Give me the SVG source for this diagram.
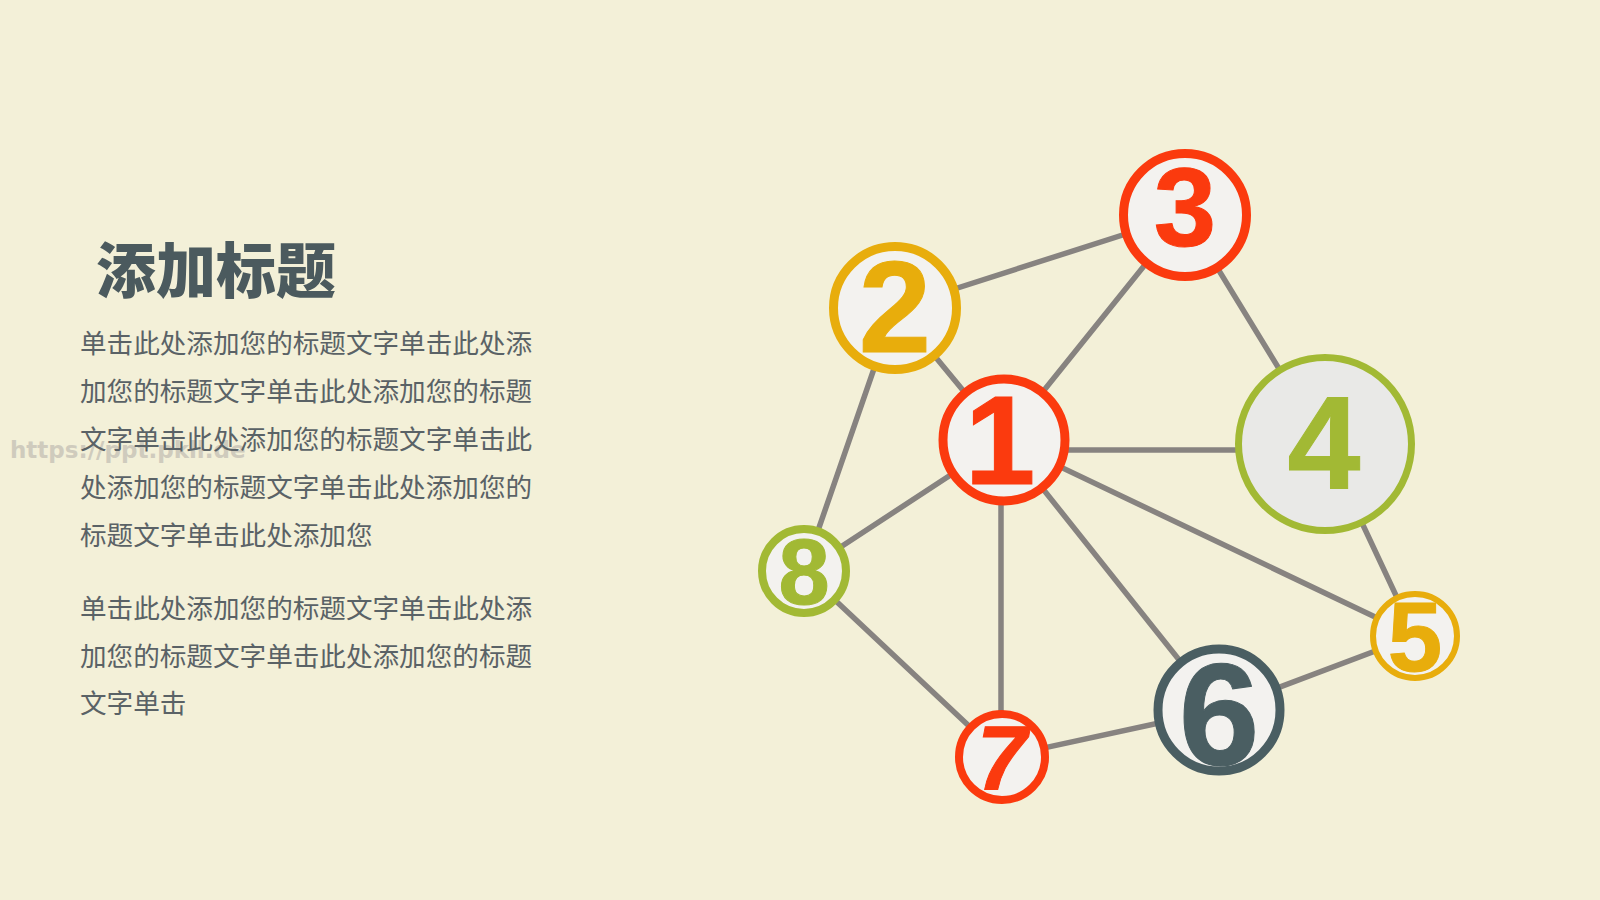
<svg xmlns="http://www.w3.org/2000/svg" width="1600" height="900" viewBox="0 0 1600 900">
<style>
.bg{fill:#f3f0d8}
.edge{stroke:#878380;stroke-width:5.5;stroke-linecap:round;fill:none}
.num{font-family:"Liberation Sans",Arial,sans-serif;font-weight:bold;text-anchor:middle}
.title{font-family:"Noto Sans CJK SC","Microsoft YaHei",sans-serif;font-weight:900;font-size:60px;fill:#4b5a5e}
.body{font-family:"Noto Sans CJK SC","Microsoft YaHei",sans-serif;font-size:26.6px;fill:#5a6266}
.wm{font-family:"DejaVu Sans","Liberation Sans",sans-serif;font-weight:bold;font-size:23px;fill:#cfcbbd}
.red{stroke:#fb3a0e;fill:#fb3a0e}
.yel{stroke:#e8ad0c;fill:#e8ad0c}
.grn{stroke:#a2b934;fill:#a2b934}
.dk{stroke:#4a5e62;fill:#4a5e62}
</style>
<rect class="bg" x="0" y="0" width="1600" height="900"/>
<text class="wm" x="10" y="458">https://ppt.pkll.de</text>
<g id="text">
<text class="title" x="96" y="293">添加标题</text>
<text class="body" x="80" y="353">单击此处添加您的标题文字单击此处添</text>
<text class="body" x="80" y="401">加您的标题文字单击此处添加您的标题</text>
<text class="body" x="80" y="449">文字单击此处添加您的标题文字单击此</text>
<text class="body" x="80" y="497">处添加您的标题文字单击此处添加您的</text>
<text class="body" x="80" y="545">标题文字单击此处添加您</text>
<text class="body" x="80" y="618">单击此处添加您的标题文字单击此处添</text>
<text class="body" x="80" y="666">加您的标题文字单击此处添加您的标题</text>
<text class="body" x="80" y="713">文字单击</text>
</g>
<g id="connectors">
<line class="edge" x1="1004" y1="440" x2="895" y2="308"/>
<line class="edge" x1="1004" y1="440" x2="1185" y2="215"/>
<line class="edge" x1="1004" y1="450" x2="1325" y2="450"/>
<line class="edge" x1="1004" y1="440" x2="1415" y2="636"/>
<line class="edge" x1="1004" y1="440" x2="1219" y2="710"/>
<line class="edge" x1="1001" y1="440" x2="1001" y2="757"/>
<line class="edge" x1="1004" y1="440" x2="804" y2="571"/>
<line class="edge" x1="895" y1="308" x2="1185" y2="215"/>
<line class="edge" x1="895" y1="308" x2="804" y2="571"/>
<line class="edge" x1="1185" y1="215" x2="1325" y2="444"/>
<line class="edge" x1="1325" y1="444" x2="1415" y2="636"/>
<line class="edge" x1="1415" y1="636" x2="1219" y2="710"/>
<line class="edge" x1="1219" y1="710" x2="1002" y2="757"/>
<line class="edge" x1="1002" y1="757" x2="804" y2="571"/>
</g>
<g id="node1">
<circle class="red" cx="1004" cy="440" r="61" stroke-width="9" style="fill:#f3f2ef"/>
<text class="num red" x="1000" y="484" font-size="127" stroke="none">1</text>
</g>
<g id="node2">
<circle class="yel" cx="895" cy="308" r="61.5" stroke-width="9" style="fill:#f3f2ef"/>
<text class="num yel" x="895" y="352" font-size="130" stroke="none">2</text>
</g>
<g id="node3">
<circle class="red" cx="1185" cy="215" r="61.5" stroke-width="9" style="fill:#f3f2ef"/>
<text class="num red" x="1185" y="246" font-size="112" stroke="none">3</text>
</g>
<g id="node4">
<circle class="grn" cx="1325" cy="444" r="86.5" stroke-width="7" style="fill:#e9e9e7"/>
<text class="num grn" x="1324" y="489" font-size="131" stroke="none">4</text>
</g>
<g id="node5">
<circle class="yel" cx="1415" cy="636" r="42" stroke-width="6" style="fill:#f3f2ef"/>
<text class="num yel" x="1415" y="671" font-size="98" stroke="none">5</text>
</g>
<g id="node6">
<circle class="dk" cx="1219" cy="710" r="61" stroke-width="9" style="fill:#f3f2ef"/>
<text class="num dk" x="1219" y="765" font-size="145" stroke="none">6</text>
</g>
<g id="node7">
<circle class="red" cx="1002" cy="757" r="43" stroke-width="8" style="fill:#f3f2ef"/>
<text class="num red" x="1002" y="789" font-size="90" font-style="italic" stroke="none">7</text>
</g>
<g id="node8">
<circle class="grn" cx="804" cy="571" r="42" stroke-width="8" style="fill:#f3f2ef"/>
<text class="num grn" x="804" y="604" font-size="92" stroke="none">8</text>
</g>
</svg>
